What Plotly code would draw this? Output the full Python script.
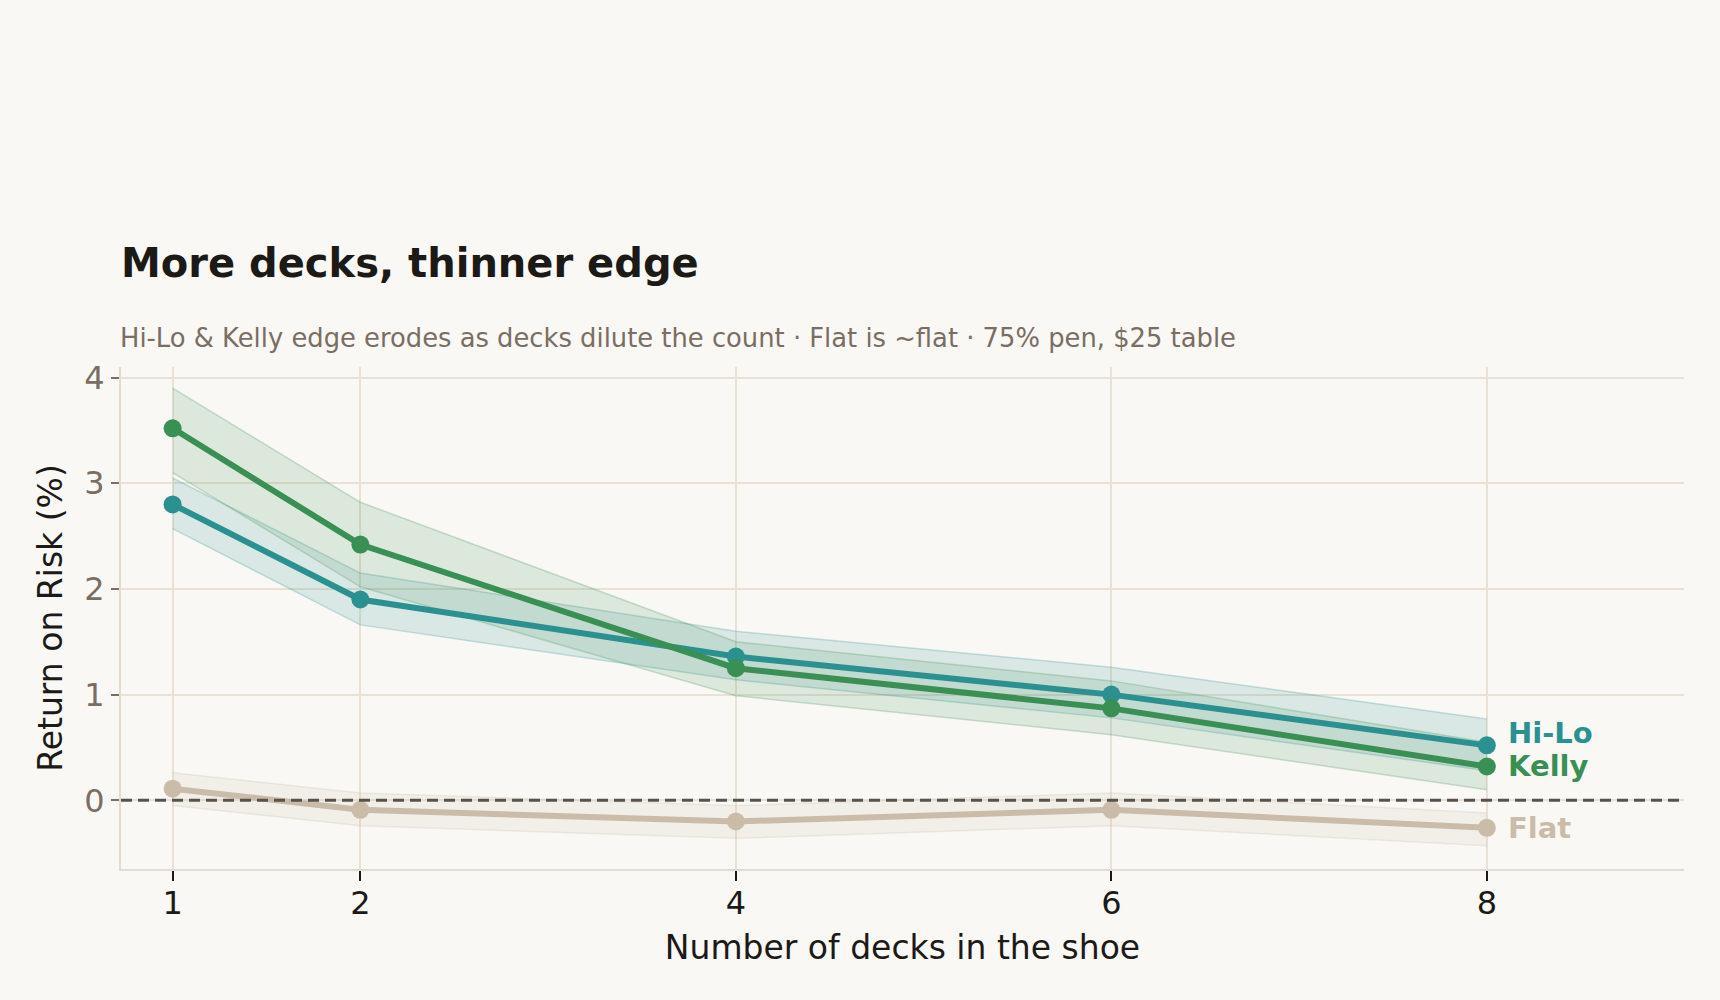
import plotly.graph_objects as go

# decks in the shoe
decks = [1, 2, 4, 6, 8]

# return on risk (%) per strategy, with band bounds
hilo = [2.80, 1.90, 1.36, 1.00, 0.52]
hilo_hi = [3.05, 2.15, 1.60, 1.26, 0.77]
hilo_lo = [2.57, 1.66, 1.14, 0.78, 0.28]

kelly = [3.52, 2.42, 1.25, 0.87, 0.32]
kelly_hi = [3.90, 2.82, 1.50, 1.13, 0.55]
kelly_lo = [3.10, 2.02, 0.99, 0.62, 0.10]

flat = [0.11, -0.09, -0.20, -0.09, -0.26]
flat_hi = [0.26, 0.07, -0.05, 0.07, -0.12]
flat_lo = [-0.05, -0.24, -0.36, -0.24, -0.43]

x_ticks = [1, 2, 4, 6, 8]
y_ticks = [0, 1, 2, 3, 4]

FONT = "DejaVu Sans"
BG = "#f9f8f5"
GRID = "#e9e1d5"

series = [
    # name, values, upper, lower, colour, rgb for bands, label nudge
    ("Flat", flat, flat_hi, flat_lo, "#cbbcaa", "203,188,170", 0),
    ("Hi-Lo", hilo, hilo_hi, hilo_lo, "#2a9090", "42,144,144", 12),
    ("Kelly", kelly, kelly_hi, kelly_lo, "#3a8f55", "58,143,85", 0),
]

fig = go.Figure()

# bands first so lines sit on top
for name, vals, hi, lo, col, rgb, nudge in series:
    fig.add_trace(go.Scatter(
        x=decks, y=hi, mode="lines",
        line=dict(color=f"rgba({rgb},0.25)", width=1.5),
        showlegend=False, hoverinfo="skip"
    ))
    fig.add_trace(go.Scatter(
        x=decks, y=lo, mode="lines", fill="tonexty",
        fillcolor=f"rgba({rgb},0.15)",
        line=dict(color=f"rgba({rgb},0.25)", width=1.5),
        showlegend=False, hoverinfo="skip"
    ))

for name, vals, hi, lo, col, rgb, nudge in series:
    fig.add_trace(go.Scatter(
        x=decks, y=vals, mode="lines+markers", name=name,
        line=dict(color=col, width=6),
        marker=dict(color=col, size=18),
        showlegend=False,
        hovertemplate=name + ": %{y:.2f}%<extra></extra>"
    ))
    # direct label at the right end
    fig.add_annotation(
        x=decks[-1], y=vals[-1], text=f"<b>{name}</b>",
        xanchor="left", yanchor="middle", xshift=19, yshift=nudge,
        showarrow=False,
        font=dict(family=FONT, size=29, color=col)
    )

# break-even reference
fig.add_shape(
    type="line", xref="paper", x0=0, x1=1, yref="y", y0=0, y1=0,
    line=dict(color="#57524c", width=3, dash="11px,6px"), layer="above"
)

fig.update_layout(
    width=1720, height=1000,
    paper_bgcolor=BG, plot_bgcolor=BG,
    margin=dict(l=121, r=36, t=367, b=131),
    font=dict(family=FONT, color="#1c1a17"),
    title=dict(
        text="<b>More decks, thinner edge</b>",
        x=121 / 1720, xanchor="left", y=1 - 263 / 1000, yanchor="middle",
        font=dict(family=FONT, size=40, color="#1c1a17")
    ),
    showlegend=False,
)

fig.add_annotation(
    xref="paper", yref="paper", x=-0.002, y=1 + 29 / 502,
    text="Hi-Lo & Kelly edge erodes as decks dilute the count · Flat is ~flat · 75% pen, $25 table",
    xanchor="left", yanchor="middle", showarrow=False,
    font=dict(family=FONT, size=25.8, color="#7a6e64")
)

fig.update_xaxes(
    range=[0.725, 9.05], tickvals=x_ticks, ticktext=[str(v) for v in x_ticks],
    showgrid=True, gridcolor=GRID, gridwidth=1.5,
    zeroline=False, showline=True, linecolor="#e3dbcf", linewidth=2,
    ticks="outside", ticklen=10, tickwidth=2, tickcolor="#1c1a17",
    ticklabelstandoff=-5,
    tickfont=dict(family=FONT, size=32, color="#1c1a17"),
    title=dict(text="Number of decks in the shoe", standoff=14,
               font=dict(family=FONT, size=33, color="#1c1a17"))
)
fig.update_yaxes(
    range=[-0.65, 4.1], tickvals=y_ticks,
    showgrid=True, gridcolor=GRID, gridwidth=1.5,
    zeroline=False, showline=True, linecolor="#e3dbcf", linewidth=2,
    ticks="outside", ticklen=8, tickwidth=2, tickcolor="#7a6e64",
    tickfont=dict(family=FONT, size=32, color="#7a6e64"),
    title=dict(text="Return on Risk (%)", standoff=12,
               font=dict(family=FONT, size=33, color="#1c1a17"))
)

# page sits flush in the window, same tone as the figure
fig.write_html(
    "out.html",
    config={"displayModeBar": False},
    post_script="document.body.style.margin='0';"
                "document.body.style.background='#f9f8f5';"
)
